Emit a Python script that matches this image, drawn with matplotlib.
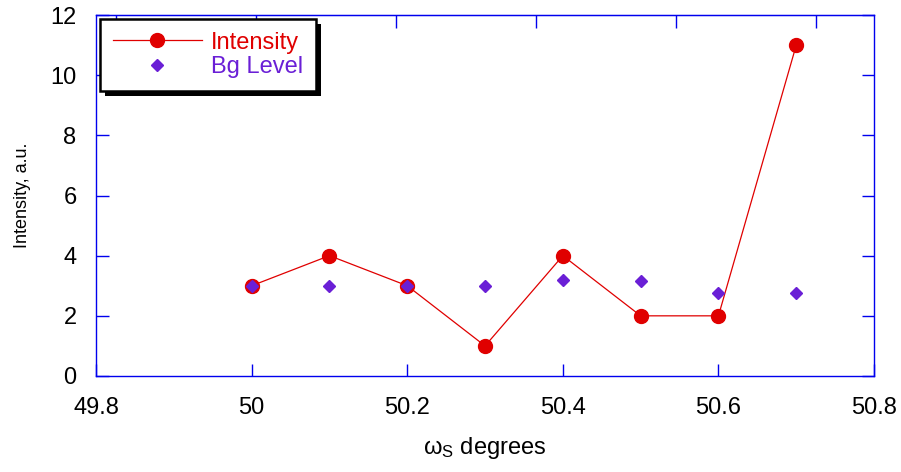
import matplotlib
matplotlib.use("Agg")
import matplotlib.pyplot as plt
from matplotlib.patches import Rectangle

plt.rcParams['font.family'] = ['Liberation Sans', 'DejaVu Sans']
plt.rcParams['mathtext.fontset'] = 'custom'
plt.rcParams['mathtext.rm'] = 'Liberation Sans'
plt.rcParams['mathtext.it'] = 'Liberation Sans:italic'

omega = [50.0, 50.1, 50.2, 50.3, 50.4, 50.5, 50.6, 50.7]
intensity = [3, 4, 3, 1, 4, 2, 2, 11]
bg_level = [3, 3, 3, 3, 3.2, 3.17, 2.75, 2.75]

x_ticks = [49.8, 50.0, 50.2, 50.4, 50.6, 50.8]
x_labels = ['49.8', '50', '50.2', '50.4', '50.6', '50.8']
y_ticks = [0, 2, 4, 6, 8, 10, 12]
top_ticks = [49.826, 50.006, 50.186, 50.366, 50.546, 50.726]

red = '#e00000'
purple = '#6a1fd6'
blue = '#0000ee'

fig = plt.figure(figsize=(9.01, 4.72), dpi=100)
ax = fig.add_axes([0.1066, 0.2034, 0.8635, 0.7648])

ax.plot(omega, intensity, color=red, lw=0.9, marker='o', markersize=10,
        markeredgecolor=red, label='Intensity', zorder=3)
ax.plot(omega, bg_level, color=purple, lw=0, marker='D', markersize=6.5,
        markeredgecolor=purple, label='Bg Level', zorder=4)

ax.set_xlim(49.8, 50.8)
ax.set_ylim(0, 12)
ax.set_xticks(x_ticks)
ax.set_xticklabels(x_labels)
ax.set_yticks(y_ticks)

for s in ax.spines.values():
    s.set_color(blue)
    s.set_linewidth(1.0)

ax.tick_params(axis='both', direction='in', length=9, width=1.0, color=blue,
               labelsize=17, right=True)
ax.tick_params(axis='x', pad=15)
ax.tick_params(axis='y', pad=14)

top = ax.secondary_xaxis('top')
top.set_xticks(top_ticks)
top.tick_params(direction='in', length=9, width=1.0, color=blue, labeltop=False)
top.spines['top'].set_color(blue)

ax.set_ylabel('Intensity, a.u.', fontsize=13, labelpad=14)
ax.set_xlabel(r'$\mathrm{ω}_\mathrm{S}$ degrees', fontsize=17, labelpad=12)

leg = ax.legend(loc='upper left', fontsize=17, handlelength=3.8,
                borderaxespad=0.15, frameon=True, fancybox=False,
                edgecolor='black', facecolor='white', framealpha=1,
                borderpad=0.55, labelspacing=0.12, handletextpad=0.35)
leg.get_frame().set_linewidth(1.8)
leg.set_zorder(10)
for txt, c in zip(leg.get_texts(), [red, purple]):
    txt.set_color(c)

fig.canvas.draw()
bb = leg.get_window_extent()
shadow = Rectangle((bb.x0 + 5, bb.y0 - 5), bb.width, bb.height,
                   transform=None, facecolor='black', edgecolor='none',
                   zorder=9, clip_on=False)
ax.add_patch(shadow)

fig.savefig('out.png', dpi=100)
